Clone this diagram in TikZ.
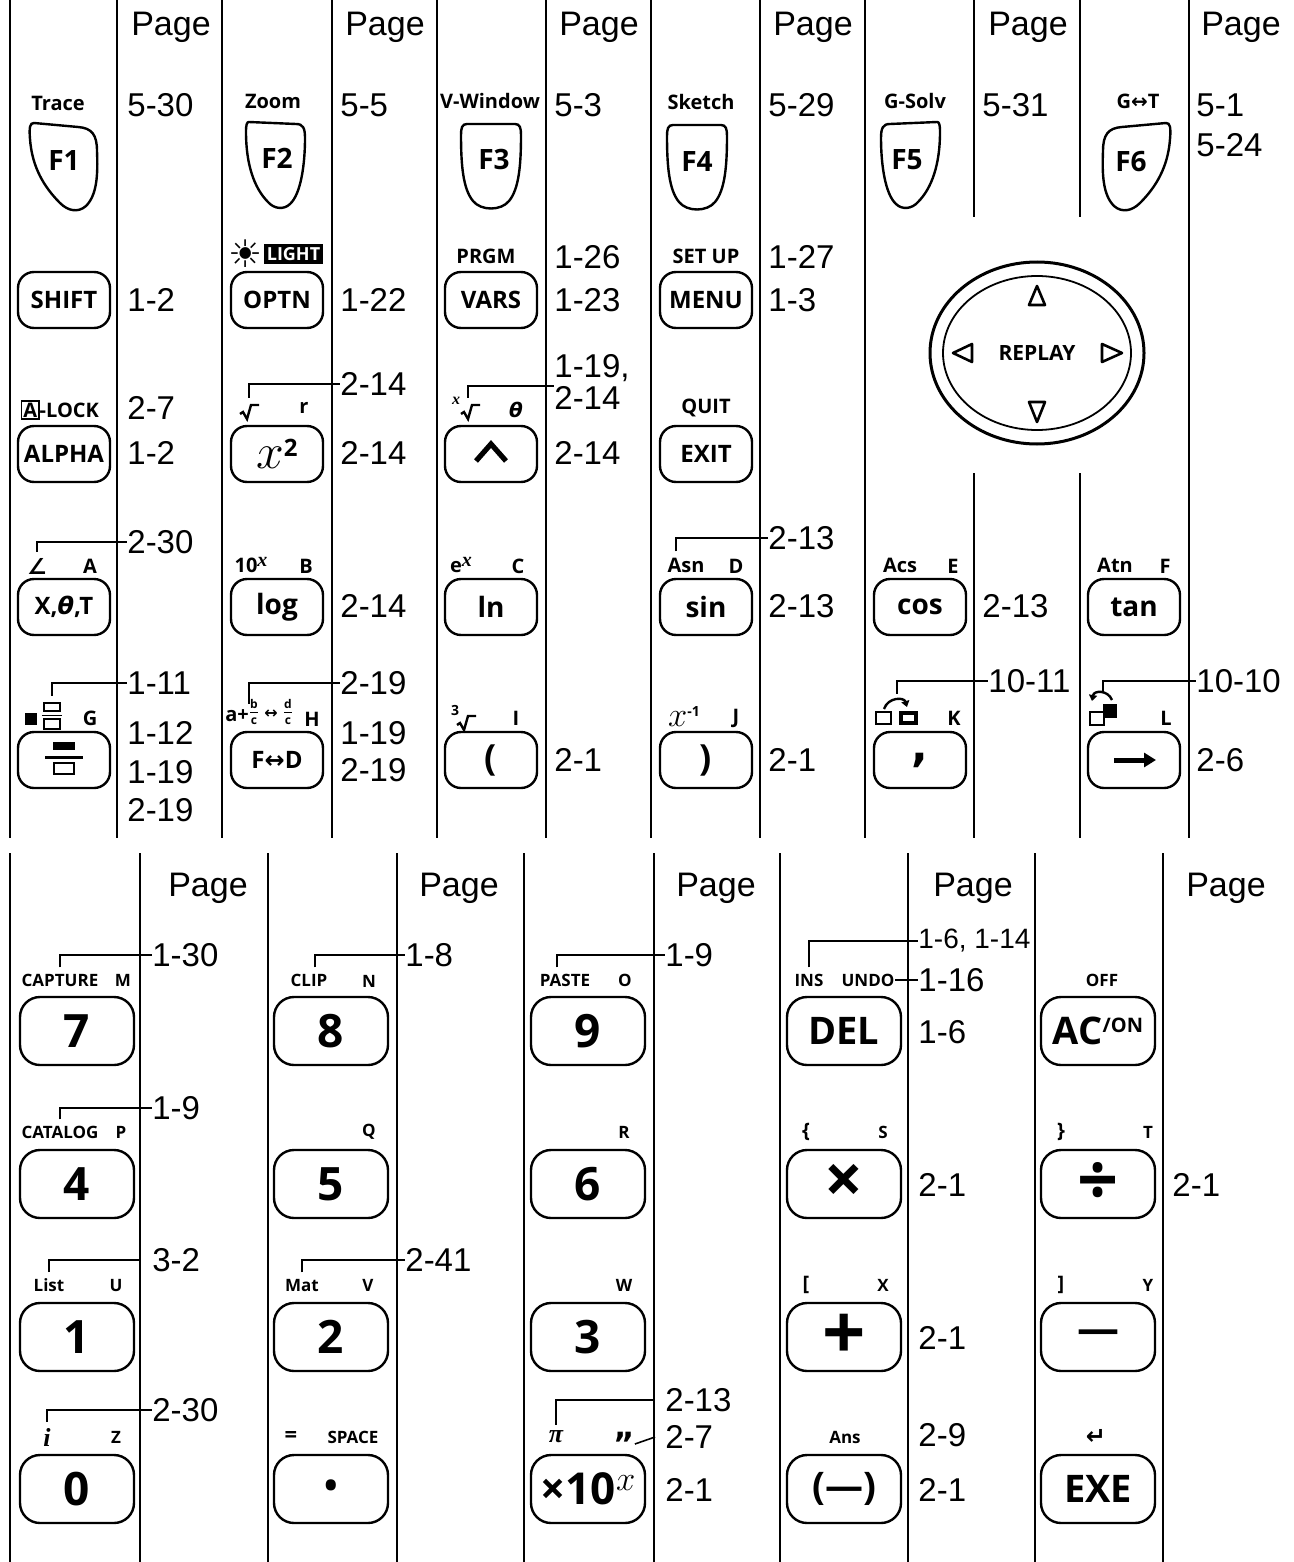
\documentclass[tikz,border=0pt]{standalone}
\usepackage{amsmath}
\usepackage{fontspec}
\setmainfont{Liberation Sans}
\newfontfamily\keyfont{Open Sans}
\newfontfamily\dejafont{DejaVu Sans}
\newfontfamily\seriff{Liberation Serif}
\usetikzlibrary{arrows.meta, positioning, shapes.geometric}

\tikzset{
  keyline/.style={line width=1.2pt},
  % 功能键外形
  fkeyA/.pic={\draw[keyline] (-30,-42) -- (14,-38) .. controls (28,-37) and (33,-30) .. (33,-14)
    .. controls (34,10) and (33,30) .. (22,41) .. controls (14,48) and (4,46) .. (-4,38)
    .. controls (-20,22) and (-32,2) .. (-34,-26) .. controls (-35,-38) and (-34,-42) .. (-30,-42) -- cycle;},
  fkeyB/.pic={\draw[keyline] (-27,-42) -- (20,-40) .. controls (27,-40) and (29,-36) .. (29,-26)
    .. controls (29,0) and (25,30) .. (14,40) .. controls (8,46) and (-2,45) .. (-8,38)
    .. controls (-22,24) and (-30,0) .. (-30,-32) .. controls (-30,-40) and (-29,-42) .. (-27,-42) -- cycle;},
  fkeyC/.pic={\draw[keyline] (-24,-41) -- (24,-41) .. controls (29,-41) and (30,-37) .. (30,-30)
    .. controls (30,0) and (28,24) .. (18,36) .. controls (10,46) and (-10,46) .. (-18,36)
    .. controls (-28,24) and (-30,0) .. (-30,-30) .. controls (-30,-37) and (-29,-41) .. (-24,-41) -- cycle;},
  % 根号
  radic/.pic={\draw[line width=1.2pt, line join=miter] (-9,3) -- (-6,1) -- (-2,8) -- (2,-6) -- (10,-6);},
}

\begin{document}
\begin{tikzpicture}[x=0.5pt, y=-0.5pt,
    divline/.style={line width=1.1pt},
    leader/.style={line width=0.8pt, shorten <=3pt},
    stub/.style={line width=0.8pt},
    tri/.style={line width=1.3pt, line join=round},
    kbox/.style={draw, keyline, rounded corners=8pt, minimum width=46pt, minimum height=28pt,
      inner sep=0pt, font=\keyfont\bfseries\fontsize{12}{12}\selectfont},
    fnbox/.style={kbox, font=\keyfont\bfseries\fontsize{14}{14}\selectfont},
    bigbox/.style={kbox, rounded corners=10pt, minimum width=57pt, minimum height=34pt,
      font=\keyfont\bfseries\fontsize{23}{23}\selectfont},
    ftxt/.style={inner sep=0pt, font=\keyfont\bfseries\fontsize{14}{14}\selectfont},
    shiftlbl/.style={inner sep=0pt, font=\keyfont\bfseries\fontsize{10}{10}\selectfont},
    tinylbl/.style={inner sep=0pt, font=\keyfont\bfseries\fontsize{6}{6}\selectfont},
    alphalbl/.style={inner sep=0pt, font=\keyfont\bfseries\fontsize{8.5}{8.5}\selectfont},
    symlbl/.style={inner sep=0pt, font=\dejafont\bfseries\fontsize{9}{9}\selectfont},
    itlbl/.style={inner sep=0pt, font=\seriff\bfseries\itshape\fontsize{13}{13}\selectfont},
    iconbox/.style={inner sep=0pt},
    pgnum/.style={inner sep=0pt, anchor=west, font=\fontsize{16.5}{16.5}\selectfont},
    pagehd/.style={inner sep=0pt, font=\fontsize{17}{17}\selectfont}]
    \useasboundingbox (0,0) rectangle (1294,1562);

    % 分隔线
    \foreach \x in {10,117,222,332,437,546,651,760,865,1189}
        \draw[divline] (\x,0) -- (\x,838);
    \foreach \x in {974,1080} {
        \draw[divline] (\x,0) -- (\x,217);
        \draw[divline] (\x,473) -- (\x,838);
    }
    \foreach \x in {10,140,268,397,524,654,780,908,1035,1163}
        \draw[divline] (\x,853) -- (\x,1562);

    % Page
    \foreach \x [count=\i] in {171,385,599,813,1028,1241}
        \node[pagehd] (ptop\i) at (\x,27) {Page};
    \foreach \x [count=\i] in {208,459,716,973,1226}
        \node[pagehd] (pbot\i) at (\x,888) {Page};

    % F 键
    \pic at (64,165) {fkeyA};
    \pic at (276,164) {fkeyB};
    \pic at (491,165) {fkeyC};
    \pic at (697,166) {fkeyC};
    \pic[xscale=-1] at (910,164) {fkeyB};
    \pic[xscale=-1] at (1136,165) {fkeyA};
    \node[ftxt] (f1) at (64,161) {F1};
    \node[ftxt] (f2) at (277,158) {F2};
    \node[ftxt] (f3) at (494,160) {F3};
    \node[ftxt] (f4) at (697,162) {F4};
    \node[ftxt] (f5) at (907,160) {F5};
    \node[ftxt] (f6) at (1131,162) {F6};
    \node[shiftlbl] (trace) at (58,103) {Trace};
    \node[shiftlbl] (zoom) at (273,101) {Zoom};
    \node[shiftlbl] (vwin) at (490,101) {V-Window};
    \node[shiftlbl] (sketch) at (701,102) {Sketch};
    \node[shiftlbl] (gsolv) at (915,101) {G-Solv};
    \node[shiftlbl] (gt) at (1138,101) {G{\dejafont\bfseries↔}T};

    % 第一行
    \node[kbox] (shift) at (64,300) {SHIFT};
    \node[kbox] (optn) at (277,300) {OPTN};
    \node[kbox] (vars) at (491,300) {VARS};
    \node[kbox] (menu) at (706,300) {MENU};
    \node[iconbox, font=\dejafont\fontsize{19}{19}\selectfont] (sun) at (246,254) {☀};
    \node[shiftlbl, font=\keyfont\bfseries\fontsize{9}{9}\selectfont, fill=black, text=white,
      inner sep=1.5pt, right=0pt of sun] (light) {LIGHT};
    \node[shiftlbl] (prgm) at (486,256) {PRGM};
    \node[shiftlbl] (setup) at (706,256) {SET UP};

    % REPLAY
    \node[ellipse, draw, line width=1.5pt, minimum width=107pt, minimum height=91pt,
      inner sep=0pt] (replayout) at (1037,353) {};
    \node[ellipse, draw, line width=0.9pt, minimum width=94pt, minimum height=77pt, inner sep=0pt,
      font=\keyfont\bfseries\fontsize{10.5}{10.5}\selectfont] (replay) at (1037,353) {REPLAY};
    \draw[tri] (1029,305) -- (1037,286) -- (1045,305) -- cycle;
    \draw[tri] (1029,402) -- (1037,422) -- (1045,402) -- cycle;
    \draw[tri] (972,344) -- (953,353) -- (972,362) -- cycle;
    \draw[tri] (1102,344) -- (1122,353) -- (1102,362) -- cycle;

    % 第二行
    \node[kbox] (alpha) at (64,454) {ALPHA};
    \node[shiftlbl] (alock) at (60,410) {{\fboxsep=0.5pt\fboxrule=0.7pt\fbox{A}}-LOCK};
    \node[kbox] (xsq) at (277,454) {{\fontsize{24}{24}\selectfont$x$}\raisebox{6pt}{\fontsize{12}{12}\selectfont 2}};
    \node[iconbox, minimum width=9pt, minimum height=7pt] (sqrtl) at (249,411) {};
    \pic at (249,411) {radic};
    \node[shiftlbl] (rlbl) at (304,408) {r};
    \node[kbox] (pow) at (491,454) {};
    \draw[line width=2.6pt, shift={(pow.center)}] (-15,7) -- (0,-10) -- (15,7);
    \node[itlbl, font=\seriff\bfseries\itshape\fontsize{8}{8}\selectfont] (xidx) at (456,401) {x};
    \node[iconbox, minimum width=8pt, minimum height=7pt] (xroot) at (468,411) {};
    \pic at (470,411) {radic};
    \node[itlbl, font=\dejafont\bfseries\itshape\fontsize{10}{10}\selectfont] (thlbl) at (516,410) {θ};
    \node[shiftlbl] (quit) at (706,408) {QUIT};
    \node[kbox] (exit) at (706,454) {EXIT};

    % 第三行
    \node[kbox] (xtt) at (64,607) {X,{\dejafont\itshape θ},T};
    \node[symlbl, font=\dejafont\bfseries\fontsize{11}{11}\selectfont] (angl) at (37,566) {∠};
    \node[shiftlbl] (albl) at (90,566) {A};
    \node[fnbox] (log) at (277,607) {log};
    \node[shiftlbl] (tenx) at (251,565) {10\raisebox{3pt}{\seriff\itshape x}};
    \node[shiftlbl] (blbl) at (306,566) {B};
    \node[fnbox] (ln) at (491,607) {ln};
    \node[shiftlbl] (ex) at (461,565) {e\raisebox{3pt}{\seriff\itshape x}};
    \node[shiftlbl] (clbl) at (518,566) {C};
    \node[fnbox] (sin) at (706,607) {sin};
    \node[shiftlbl] (asn) at (686,565) {Asn};
    \node[shiftlbl] (dlbl) at (736,566) {D};
    \node[fnbox] (cos) at (920,607) {cos};
    \node[shiftlbl] (acs) at (900,565) {Acs};
    \node[shiftlbl] (elbl) at (953,566) {E};
    \node[fnbox] (tan) at (1134,607) {tan};
    \node[shiftlbl] (atn) at (1115,565) {Atn};
    \node[shiftlbl] (flbl) at (1165,566) {F};

    % 第四行
    \node[kbox] (frackey) at (64,760) {};
    \fill[shift={(frackey.center)}] (-11,-18) rectangle (11,-10);
    \draw[line width=1.5pt, shift={(frackey.center)}] (-19,-3) -- (19,-3);
    \draw[line width=1pt, shift={(frackey.center)}] (-10,3) rectangle (10,14);
    \node[iconbox, minimum width=10pt, minimum height=14pt] (mixic) at (52,716) {};
    \fill (25,713) rectangle (37,725);
    \draw[line width=0.8pt] (44,703) rectangle (60,711);
    \draw[line width=0.8pt] (42,715.5) -- (62,715.5);
    \draw[line width=0.8pt] (44,719) rectangle (60,729);
    \node[shiftlbl] (glbl) at (90,718) {G};
    \node[kbox] (fd) at (277,760) {F{\dejafont\bfseries↔}D};
    \node[shiftlbl] (mixlbl) at (237,716) {a+};
    \node[tinylbl] (bnum) at (254,704) {b};
    \node[tinylbl] (cden) at (254,721) {c};
    \draw[line width=0.6pt] (250,712.5) -- (258,712.5);
    \node[symlbl, font=\dejafont\bfseries\fontsize{8}{8}\selectfont] (mixarr) at (271,714) {↔};
    \node[tinylbl] (dnum) at (288,704) {d};
    \node[tinylbl] (cden2) at (288,721) {c};
    \draw[line width=0.6pt] (284,712.5) -- (292,712.5);
    \node[shiftlbl] (hlbl) at (312,719) {H};
    \node[kbox, font=\keyfont\bfseries\fontsize{18}{18}\selectfont] (lpar) at (491,760) {(};
    \node[shiftlbl, font=\keyfont\bfseries\fontsize{7}{7}\selectfont] (three) at (455,710) {3};
    \pic at (466,722) {radic};
    \node[shiftlbl] (ilbl) at (516,718) {I};
    \node[kbox, font=\keyfont\bfseries\fontsize{18}{18}\selectfont] (rpar) at (706,760) {)};
    \node[iconbox] (xinv) at (684,716) {{\fontsize{17}{17}\selectfont$x$}\raisebox{5pt}{\keyfont\bfseries\fontsize{7}{7}\selectfont-1}};
    \node[shiftlbl] (jlbl) at (736,718) {J};
    \node[kbox, font=\dejafont\bfseries\fontsize{22}{22}\selectfont] (comma) at (920,760) {,};
    \node[iconbox, minimum width=22pt, minimum height=13pt] (cpyic) at (897,713) {};
    \draw[line width=0.9pt] (876,712) rectangle (891,724);
    \draw[line width=1.8pt] (901,713) rectangle (916,723);
    \draw[line width=1.2pt, -{Triangle[length=3pt,width=4pt]}] (884,709) .. controls (888,697) and (904,697) .. (907,707);
    \node[shiftlbl] (klbl) at (954,718) {K};
    \node[kbox] (sto) at (1134,760) {};
    \draw[line width=2.5pt, -{Triangle[length=6pt,width=7pt]}, shift={(sto.center)}] (-20,0) -- (22,0);
    \node[iconbox, minimum width=14pt, minimum height=14pt] (swapic) at (1103,712) {};
    \fill (1103,704) rectangle (1117,718);
    \draw[line width=0.9pt, fill=white] (1090,712) rectangle (1104,725);
    \draw[line width=1.2pt, -{Triangle[length=3pt,width=4pt]}] (1112,700) .. controls (1108,690) and (1094,690) .. (1092,701);
    \node[shiftlbl] (llbl) at (1166,718) {L};

    % 上半页码
    \node[pgnum] (n1a) at (127,105) {5-30};
    \node[pgnum] (n1b) at (127,300) {1-2};
    \node[pgnum] (n1c) at (127,408) {2-7};
    \node[pgnum] (n1d) at (127,453) {1-2};
    \node[pgnum] (n1e) at (127,542) {2-30};
    \node[pgnum] (n1f) at (127,683) {1-11};
    \node[pgnum] (n1g) at (127,733) {1-12};
    \node[pgnum] (n1h) at (127,772) {1-19};
    \node[pgnum] (n1i) at (127,810) {2-19};
    \node[pgnum] (n2a) at (340,105) {5-5};
    \node[pgnum] (n2b) at (340,300) {1-22};
    \node[pgnum] (n2c) at (340,384) {2-14};
    \node[pgnum] (n2d) at (340,453) {2-14};
    \node[pgnum] (n2e) at (340,606) {2-14};
    \node[pgnum] (n2f) at (340,683) {2-19};
    \node[pgnum] (n2g) at (340,733) {1-19};
    \node[pgnum] (n2h) at (340,770) {2-19};
    \node[pgnum] (n3a) at (554,105) {5-3};
    \node[pgnum] (n3b) at (554,257) {1-26};
    \node[pgnum] (n3c) at (554,300) {1-23};
    \node[pgnum] (n3d) at (554,368) {1-19,};
    \node[pgnum] (n3e) at (554,398) {2-14};
    \node[pgnum] (n3f) at (554,453) {2-14};
    \node[pgnum] (n3g) at (554,760) {2-1};
    \node[pgnum] (n4a) at (768,105) {5-29};
    \node[pgnum] (n4b) at (768,257) {1-27};
    \node[pgnum] (n4c) at (768,300) {1-3};
    \node[pgnum] (n4d) at (768,538) {2-13};
    \node[pgnum] (n4e) at (768,606) {2-13};
    \node[pgnum] (n4f) at (768,760) {2-1};
    \node[pgnum] (n5a) at (982,105) {5-31};
    \node[pgnum] (n5b) at (982,606) {2-13};
    \node[pgnum] (n5c) at (988,681) {10-11};
    \node[pgnum] (n6a) at (1196,105) {5-1};
    \node[pgnum] (n6b) at (1196,145) {5-24};
    \node[pgnum] (n6c) at (1196,681) {10-10};
    \node[pgnum] (n6d) at (1196,760) {2-6};

    % 上半引线
    \draw[leader] (sqrtl.north) |- (n2c.west);
    \draw[leader] (xroot.north) |- (n3e.north west);
    \draw[leader] (angl.north) |- (n1e.west);
    \draw[leader] ([xshift=-5pt]asn.north) |- (n4d.west);
    \draw[leader] (mixic.north) |- (n1f.west);
    \draw[leader] ([xshift=6pt]mixlbl.north) |- (n2f.west);
    \draw[leader] (cpyic.north) |- (n5c.west);
    \draw[leader] (swapic.north) |- (n6c.west);

    % 数字键
    \node[bigbox] (k7) at (77,1031) {7};
    \node[bigbox] (k8) at (331,1031) {8};
    \node[bigbox] (k9) at (588,1031) {9};
    \node[bigbox, font=\keyfont\bfseries\fontsize{19}{19}\selectfont] (del) at (844,1031) {DEL};
    \node[bigbox, font=\keyfont\bfseries\fontsize{19}{19}\selectfont] (acon) at (1098,1031) {AC\raisebox{6pt}{\fontsize{10}{10}\selectfont/ON}};
    \node[bigbox] (k4) at (77,1184) {4};
    \node[bigbox] (k5) at (331,1184) {5};
    \node[bigbox] (k6) at (588,1184) {6};
    \node[bigbox, font=\keyfont\bfseries\fontsize{34}{34}\selectfont] (mul) at (844,1184) {×};
    \node[bigbox, font=\keyfont\bfseries\fontsize{36}{36}\selectfont] (dvd) at (1098,1184) {÷};
    \node[bigbox] (k1) at (77,1337) {1};
    \node[bigbox] (k2) at (331,1337) {2};
    \node[bigbox] (k3) at (588,1337) {3};
    \node[bigbox, font=\keyfont\bfseries\fontsize{38}{38}\selectfont] (plus) at (844,1337) {+};
    \node[bigbox, font=\keyfont\bfseries\fontsize{21}{21}\selectfont] (minus) at (1098,1337) {\raisebox{-2pt}{—}};
    \node[bigbox] (k0) at (77,1489) {0};
    \node[bigbox, font=\keyfont\bfseries\fontsize{18}{18}\selectfont] (dot) at (331,1489) {\raisebox{-1.5pt}{•}};
    \node[bigbox, font=\keyfont\bfseries\fontsize{22}{22}\selectfont] (exp) at (588,1489) {×10\raisebox{7pt}{\fontsize{16}{16}\selectfont$x$}};
    \node[bigbox, font=\keyfont\bfseries\fontsize{19}{19}\selectfont] (neg) at (844,1489) {(—)};
    \node[bigbox, font=\keyfont\bfseries\fontsize{19}{19}\selectfont] (exe) at (1098,1489) {EXE};

    % 数字键标签
    \node[alphalbl] (capture) at (60,980) {CAPTURE};
    \node[alphalbl] (mlbl) at (123,980) {M};
    \node[alphalbl] (clip) at (309,980) {CLIP};
    \node[alphalbl] (nlbl) at (369,981) {N};
    \node[alphalbl] (paste) at (565,980) {PASTE};
    \node[alphalbl] (olbl) at (625,980) {O};
    \node[alphalbl] (ins) at (809,980) {INS};
    \node[alphalbl] (undo) at (868,980) {UNDO};
    \node[alphalbl] (off) at (1102,980) {OFF};
    \node[alphalbl] (catalog) at (60,1132) {CATALOG};
    \node[alphalbl] (plbl) at (121,1132) {P};
    \node[alphalbl] (qlbl) at (369,1132) {Q};
    \node[alphalbl] (rlbl2) at (624,1132) {R};
    \node[alphalbl, font=\keyfont\bfseries\fontsize{10}{10}\selectfont] (lbrace) at (806,1132) {\{};
    \node[alphalbl] (slbl) at (883,1132) {S};
    \node[alphalbl, font=\keyfont\bfseries\fontsize{10}{10}\selectfont] (rbrace) at (1061,1132) {\}};
    \node[alphalbl] (tlbl) at (1148,1132) {T};
    \node[alphalbl] (list) at (49,1285) {List};
    \node[alphalbl] (ulbl) at (116,1285) {U};
    \node[alphalbl] (mat) at (302,1285) {Mat};
    \node[alphalbl] (vlbl) at (368,1285) {V};
    \node[alphalbl] (wlbl) at (624,1285) {W};
    \node[alphalbl, font=\keyfont\bfseries\fontsize{10}{10}\selectfont] (lbrack) at (806,1285) {[};
    \node[alphalbl] (xlbl) at (883,1285) {X};
    \node[alphalbl, font=\keyfont\bfseries\fontsize{10}{10}\selectfont] (rbrack) at (1061,1285) {]};
    \node[alphalbl] (ylbl) at (1148,1285) {Y};
    \node[itlbl] (ilbl2) at (47,1437) {i};
    \node[alphalbl] (zlbl) at (116,1437) {Z};
    \node[alphalbl, font=\keyfont\bfseries\fontsize{11}{11}\selectfont] (eqlbl) at (291,1437) {=};
    \node[alphalbl] (space) at (353,1437) {SPACE};
    \node[itlbl] (pilbl) at (556,1437) {π};
    \node[symlbl, font=\dejafont\bfseries\fontsize{16}{16}\selectfont] (quot) at (624,1444) {”};
    \node[alphalbl] (ans) at (845,1437) {Ans};
    \node[symlbl, font=\dejafont\bfseries\fontsize{12}{12}\selectfont] (enter) at (1096,1437) {↵};

    % 下半页码
    \node[pgnum] (m1a) at (152,955) {1-30};
    \node[pgnum] (m1b) at (152,1108) {1-9};
    \node[pgnum] (m1c) at (152,1260) {3-2};
    \node[pgnum] (m1d) at (152,1410) {2-30};
    \node[pgnum] (m2a) at (405,955) {1-8};
    \node[pgnum] (m2b) at (405,1260) {2-41};
    \node[pgnum] (m3a) at (665,955) {1-9};
    \node[pgnum] (m3b) at (665,1400) {2-13};
    \node[pgnum] (m3c) at (665,1437) {2-7};
    \node[pgnum] (m3d) at (665,1490) {2-1};
    \node[pgnum, font=\fontsize{14}{14}\selectfont] (m4a) at (918,941) {1-6, 1-14};
    \node[pgnum] (m4b) at (918,980) {1-16};
    \node[pgnum] (m4c) at (918,1032) {1-6};
    \node[pgnum] (m4d) at (918,1185) {2-1};
    \node[pgnum] (m4e) at (918,1338) {2-1};
    \node[pgnum] (m4f) at (918,1435) {2-9};
    \node[pgnum] (m4g) at (918,1490) {2-1};
    \node[pgnum] (m5a) at (1172,1185) {2-1};

    % 下半引线
    \draw[leader] (capture.north) |- (m1a.west);
    \draw[leader] ([xshift=3pt]clip.north) |- (m2a.west);
    \draw[leader] ([xshift=-4pt]paste.north) |- (m3a.west);
    \draw[leader] (ins.north) |- (m4a.west);
    \draw[stub] (undo.east) -- (m4b.west);
    \draw[leader] (catalog.north) |- (m1b.west);
    \draw[leader] (list.north) |- ([xshift=-6pt]m1c.west);
    \draw[leader] (mat.north) |- (m2b.west);
    \draw[leader] (ilbl2.north) |- (m1d.west);
    \draw[leader] (pilbl.north) |- ([xshift=-5pt]m3b.west);
    \draw[stub] (quot.east) -- ([xshift=-5pt]m3c.west);
\end{tikzpicture}
\end{document}
